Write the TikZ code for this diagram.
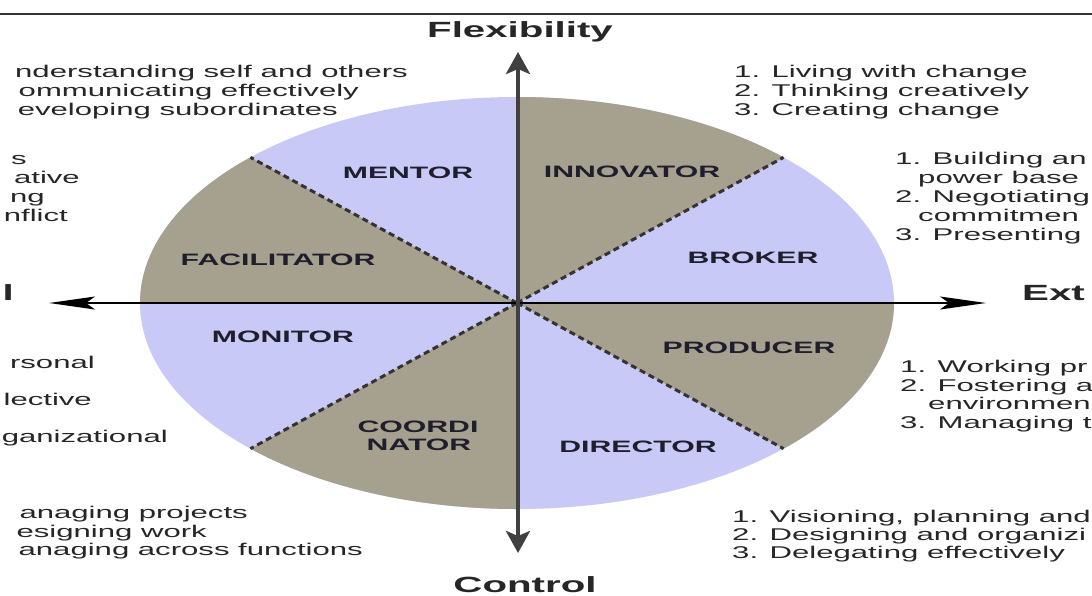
\documentclass[tikz,border=0pt]{standalone}
\usepackage{fontspec}
\setmainfont{Liberation Sans}
\usepackage{graphicx}
\usetikzlibrary{arrows.meta}

\definecolor{sectorblue}{RGB}{201,201,247}
\definecolor{sectortan}{RGB}{166,161,142}
\definecolor{inkgray}{RGB}{38,38,38}
\definecolor{rolelabel}{RGB}{30,30,45}

% all lettering is set wide
\newcommand{\wide}[1]{\scalebox{1.83}[1]{#1}}

\begin{document}
\begin{tikzpicture}[x=1pt,y=-1pt,
  item/.style={inner sep=0pt, font=\fontsize{17}{19}\selectfont, text=inkgray},
  role/.style={inner sep=0pt, font=\bfseries\fontsize{16.5}{18}\selectfont, text=rolelabel},
  axislabel/.style={inner sep=0pt, font=\bfseries\fontsize{22}{24}\selectfont, text=inkgray},
  divider/.style={draw=black!80, line width=3pt, dash pattern=on 6pt off 4pt},
  hline/.style={draw=black, line width=1.8pt,
    {Stealth[length=46pt,width=13pt,inset=9pt]}-{Stealth[length=46pt,width=13pt,inset=9pt]}},
  vline/.style={draw=black!75, line width=4pt,
    {Stealth[length=22pt,width=24pt,inset=5pt]}-{Stealth[length=22pt,width=24pt,inset=5pt]}},
]
\useasboundingbox (0,0) rectangle (1092,595);
\fill[white] (0,0) rectangle (1092,595);
\clip (0,0) rectangle (1092,595);

% header rule
\draw[black!80, line width=2.5pt] (0,14) -- (1092,14);

% the wheel: eight sectors of an ellipse
\begin{scope}[shift={(517,303)}, x=377pt, y=206pt]
  \coordinate (hub) at (0,0);
  \fill[sectorblue] (hub) circle[radius=1];
  \fill[sectortan] (hub) -- (45:1) arc[start angle=45, end angle=90, radius=1] -- cycle;
  \fill[sectortan] (hub) -- (-45:1) arc[start angle=-45, end angle=0, radius=1] -- cycle;
  \fill[sectortan] (hub) -- (225:1) arc[start angle=225, end angle=270, radius=1] -- cycle;
  \fill[sectortan] (hub) -- (135:1) arc[start angle=135, end angle=180, radius=1] -- cycle;
  \coordinate (d1) at (45:1);
  \coordinate (d2) at (135:1);
  \coordinate (d3) at (225:1);
  \coordinate (d4) at (315:1);
  \draw[divider] (hub) -- (d1);
  \draw[divider] (hub) -- (d2);
  \draw[divider] (hub) -- (d3);
  \draw[divider] (hub) -- (d4);
\end{scope}

% axes
\coordinate (westtip) at (49,303);
\coordinate (easttip) at (986,303);
\coordinate (northtip) at (518,52);
\coordinate (southtip) at (518,553);
\draw[hline] (westtip) -- (easttip);
\draw[vline] (northtip) -- (southtip);

% axis labels
\node[axislabel, anchor=base] (flex) at (520,37) {\wide{Flexibility}};
\node[axislabel, anchor=base] (ctrl) at (525,592) {\wide{Control}};
\node[axislabel, anchor=base west] (ext) at (1022,300) {\wide{Ext}};
\node[axislabel, anchor=base east] (int) at (14,300) {\wide{l}};

% roles
\node[role, anchor=base] (mentor) at (408,178) {\wide{MENTOR}};
\node[role, anchor=base] (innovator) at (632,177) {\wide{INNOVATOR}};
\node[role, anchor=base] (facilitator) at (278,265) {\wide{FACILITATOR}};
\node[role, anchor=base] (broker) at (753,263) {\wide{BROKER}};
\node[role, anchor=base] (monitor) at (283,342) {\wide{MONITOR}};
\node[role, anchor=base] (producer) at (749,353) {\wide{PRODUCER}};
\node[role, anchor=base] (coordA) at (418,432) {\wide{COORDI}};
\node[role, anchor=base] (coordB) at (419,450) {\wide{NATOR}};
\node[role, anchor=base] (director) at (638,452) {\wide{DIRECTOR}};

% mentor competencies
\node[item, anchor=base east] (mA) at (408,77) {\wide{nderstanding self and others}};
\node[item, anchor=base east] (mB) at (359,96) {\wide{ommunicating effectively}};
\node[item, anchor=base east] (mC) at (338,115) {\wide{eveloping subordinates}};

% facilitator competencies
\node[item, anchor=base east] (fA) at (27,164) {\wide{s}};
\node[item, anchor=base east] (fB) at (80,183) {\wide{ative}};
\node[item, anchor=base east] (fC) at (45,202) {\wide{ng}};
\node[item, anchor=base east] (fD) at (68,221) {\wide{nflict}};

% monitor competencies
\node[item, anchor=base east] (moA) at (95,368) {\wide{rsonal}};
\node[item, anchor=base east] (moB) at (92,405) {\wide{lective}};
\node[item, anchor=base east] (moC) at (168,442) {\wide{ganizational}};

% coordinator competencies
\node[item, anchor=base east] (cA) at (248,518) {\wide{anaging projects}};
\node[item, anchor=base east] (cB) at (207,537) {\wide{esigning work}};
\node[item, anchor=base east] (cC) at (363,555) {\wide{anaging across functions}};

% innovator competencies
\node[item, anchor=base west] (iA) at (734,77) {\wide{1. Living with change}};
\node[item, anchor=base west] (iB) at (734,96) {\wide{2. Thinking creatively}};
\node[item, anchor=base west] (iC) at (734,115) {\wide{3. Creating change}};

% broker competencies
\node[item, anchor=base west] (bA) at (895,164) {\wide{1. Building an}};
\node[item, anchor=base west] (bB) at (918,183) {\wide{power base}};
\node[item, anchor=base west] (bC) at (895,202) {\wide{2. Negotiating}};
\node[item, anchor=base west] (bD) at (918,221) {\wide{commitmen}};
\node[item, anchor=base west] (bE) at (895,240) {\wide{3. Presenting}};

% producer competencies
\node[item, anchor=base west] (pA) at (900,372) {\wide{1. Working pr}};
\node[item, anchor=base west] (pB) at (900,391) {\wide{2. Fostering a}};
\node[item, anchor=base west] (pC) at (928,409) {\wide{environmen}};
\node[item, anchor=base west] (pD) at (900,428) {\wide{3. Managing t}};

% director competencies
\node[item, anchor=base west] (dA) at (732,522) {\wide{1. Visioning, planning and}};
\node[item, anchor=base west] (dB) at (732,540) {\wide{2. Designing and organizi}};
\node[item, anchor=base west] (dC) at (732,558) {\wide{3. Delegating effectively}};
\end{tikzpicture}
\end{document}
